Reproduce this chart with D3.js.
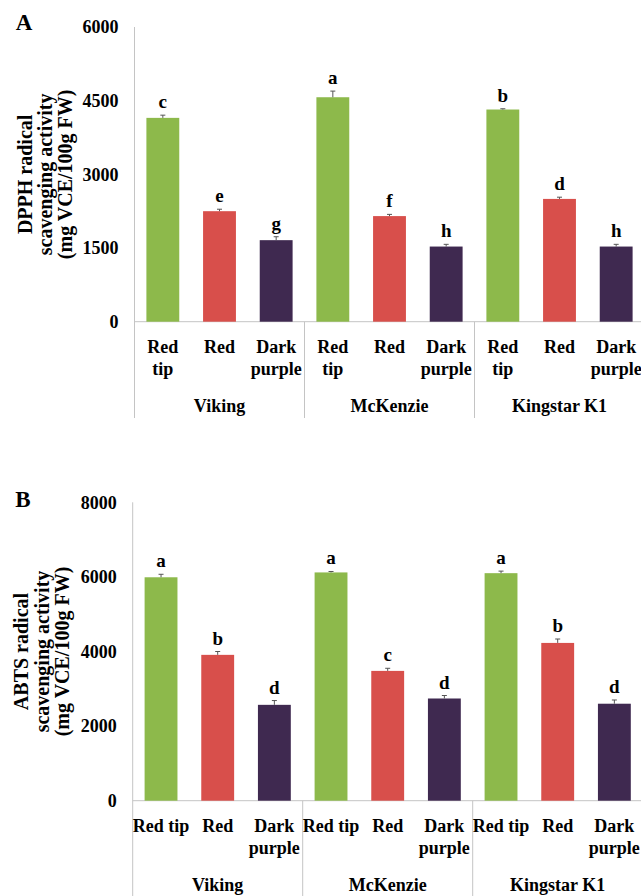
<!DOCTYPE html>
<html>
<head>
<meta charset="utf-8">
<script src="https://cdn.jsdelivr.net/npm/d3@7"></script>
<style>
  body { margin: 0; background: #fff; }
  svg { display: block; font-family: "Liberation Serif", "Times New Roman", serif; font-weight: bold; }
</style>
</head>
<body>
<script>
// cultivars and leaf colours
var varieties = ["Viking", "McKenzie", "Kingstar K1"];
var leafColours = ["Red tip", "Red", "Dark purple"];
var barFills = ["#8db94b", "#d84f4b", "#3f2950"];

// panel A - DPPH (mg VCE/100g FW)
var dpphMeans = [4150, 2250, 1660, 4570, 2150, 1530, 4320, 2500, 1530];
var dpphErrors = [55, 40, 70, 125, 35, 45, 15, 35, 45];
var dpphLetters = ["c", "e", "g", "a", "f", "h", "b", "d", "h"];
var dpphTicks = [0, 1500, 3000, 4500, 6000];
var dpphLabelLines = [["Red", "tip"], ["Red"], ["Dark", "purple"]];

// panel B - ABTS (mg VCE/100g FW)
var abtsMeans = [5990, 3910, 2570, 6120, 3480, 2740, 6100, 4230, 2600];
var abtsErrors = [80, 90, 115, 25, 70, 80, 55, 105, 100];
var abtsLetters = ["a", "b", "d", "a", "c", "d", "a", "b", "d"];
var abtsTicks = [0, 2000, 4000, 6000, 8000];
var abtsLabelLines = [["Red tip"], ["Red"], ["Dark", "purple"]];

var svg = d3.select("body").append("svg")
    .attr("width", 641)
    .attr("height", 896);

function drawPanel(p){

    var g = svg.append("g");

    // build rows from the arrays
    var rows = [];
    varieties.forEach(function(v, i){
        leafColours.forEach(function(c, j){
            var k = i * 3 + j;
            rows.push({variety: v, colour: c, j: j, mean: p.means[k], err: p.errors[k], letter: p.letters[k]});
        });
    });

    var xOuter = d3.scaleBand().domain(varieties)
            .range([p.left, p.left + 510]);

    var xInner = d3.scaleBand().domain(leafColours)
            .range([0, xOuter.bandwidth()])
            .paddingInner(0.42)
            .paddingOuter(0.21);

    var yScale = d3.scaleLinear().domain([0, p.max])
            .range([p.zero, p.top]);

    // left axis line and zero line
    g.append("line")
        .attr("x1", p.left).attr("x2", p.left)
        .attr("y1", p.top).attr("y2", p.bottom)
        .attr("stroke", "#c4c4c4");

    g.append("line")
        .attr("x1", p.left).attr("x2", p.left + 510)
        .attr("y1", p.zero).attr("y2", p.zero)
        .attr("stroke", "#c4c4c4");

    // group dividers
    g.selectAll(".divider")
        .data(varieties)
        .enter()
        .append("line")
        .attr("x1", function(d){ return xOuter(d) + xOuter.bandwidth(); })
        .attr("x2", function(d){ return xOuter(d) + xOuter.bandwidth(); })
        .attr("y1", p.zero)
        .attr("y2", p.bottom)
        .attr("stroke", "#c4c4c4");

    // y axis ticks
    var yAxis = d3.axisLeft(yScale)
        .tickValues(p.ticks)
        .tickFormat(d3.format("d"))
        .tickSize(0)
        .tickPadding(16);
    var ax = g.append("g")
        .attr("transform", "translate(" + p.left + ",0)")
        .call(yAxis)
        .attr("font-family", "Liberation Serif")
        .attr("font-size", 18)
        .attr("font-weight", "bold");
    ax.select(".domain").remove();
    ax.selectAll("text").attr("fill", "#000");

    // bars
    g.selectAll(".bar")
        .data(rows)
        .enter()
        .append("rect")
        .attr("x", function(d){ return xOuter(d.variety) + xInner(d.colour); })
        .attr("y", function(d){ return yScale(d.mean); })
        .attr("width", xInner.bandwidth())
        .attr("height", function(d){ return yScale(0) - yScale(d.mean); })
        .attr("fill", function(d){ return barFills[d.j]; });

    // error bars (upper half)
    var errs = g.selectAll(".err")
        .data(rows)
        .enter()
        .append("g")
        .attr("stroke", "#555")
        .attr("stroke-width", 1);

    errs.append("line")
        .attr("x1", function(d){ return xOuter(d.variety) + xInner(d.colour) + xInner.bandwidth() / 2; })
        .attr("x2", function(d){ return xOuter(d.variety) + xInner(d.colour) + xInner.bandwidth() / 2; })
        .attr("y1", function(d){ return yScale(d.mean); })
        .attr("y2", function(d){ return yScale(d.mean + d.err); });

    errs.append("line")
        .attr("x1", function(d){ return xOuter(d.variety) + xInner(d.colour) + xInner.bandwidth() / 2 - 2.5; })
        .attr("x2", function(d){ return xOuter(d.variety) + xInner(d.colour) + xInner.bandwidth() / 2 + 2.5; })
        .attr("y1", function(d){ return yScale(d.mean + d.err); })
        .attr("y2", function(d){ return yScale(d.mean + d.err); });

    // significance letters
    g.selectAll(".letter")
        .data(rows)
        .enter()
        .append("text")
        .attr("x", function(d){ return xOuter(d.variety) + xInner(d.colour) + xInner.bandwidth() / 2; })
        .attr("y", function(d){ return yScale(d.mean + d.err) - 7; })
        .attr("text-anchor", "middle")
        .attr("font-size", 19)
        .text(function(d){ return d.letter; });

    // category labels
    var cat = g.selectAll(".cat")
        .data(rows)
        .enter()
        .append("text")
        .attr("text-anchor", "middle")
        .attr("font-size", 18);

    cat.selectAll("tspan")
        .data(function(d){
            return p.labelLines[d.j].map(function(t){
                return {t: t, x: xOuter(d.variety) + xInner(d.colour) + xInner.bandwidth() / 2};
            });
        })
        .enter()
        .append("tspan")
        .attr("x", function(d){ return d.x; })
        .attr("y", function(d, i){ return p.zero + 31 + i * 22; })
        .text(function(d){ return d.t; });

    // variety labels
    g.selectAll(".variety")
        .data(varieties)
        .enter()
        .append("text")
        .attr("x", function(d){ return xOuter(d) + xOuter.bandwidth() / 2; })
        .attr("y", p.zero + 90)
        .attr("text-anchor", "middle")
        .attr("font-size", 18)
        .text(function(d){ return d; });

    // y title, three lines
    var midY = (p.top + p.zero) / 2;
    p.titleLines.forEach(function(t, i){
        g.append("text")
            .attr("transform", "translate(" + p.titleX[i] + "," + midY + ") rotate(-90)")
            .attr("text-anchor", "middle")
            .attr("font-size", 20)
            .text(t);
    });

    // panel letter
    g.append("text")
        .attr("x", p.tagX)
        .attr("y", p.tagY)
        .attr("text-anchor", "middle")
        .attr("font-size", 23)
        .text(p.tag);
}

drawPanel({
    tag: "A", tagX: 24, tagY: 30,
    left: 134.5, top: 27, zero: 321.7, bottom: 418, max: 6000,
    means: dpphMeans, errors: dpphErrors, letters: dpphLetters,
    ticks: dpphTicks, labelLines: dpphLabelLines,
    titleLines: ["DPPH radical", "scavenging activity", "(mg VCE/100g FW)"],
    titleX: [31.5, 51.5, 71.5]
});

drawPanel({
    tag: "B", tagX: 23, tagY: 507,
    left: 132.7, top: 502.3, zero: 800.7, bottom: 896, max: 8000,
    means: abtsMeans, errors: abtsErrors, letters: abtsLetters,
    ticks: abtsTicks, labelLines: abtsLabelLines,
    titleLines: ["ABTS radical", "scavenging activity", "(mg VCE/100g FW)"],
    titleX: [28, 49, 69]
});
</script>
</body>
</html>
